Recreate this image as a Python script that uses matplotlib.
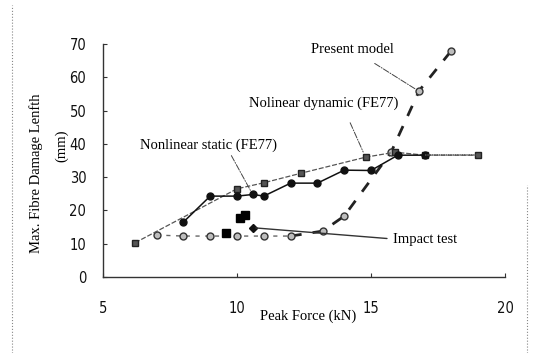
import matplotlib
matplotlib.use("Agg")
import matplotlib.pyplot as plt
from matplotlib import font_manager
from matplotlib.lines import Line2D

# ---- data ----
static_x = [8, 9, 10, 10.6, 11, 12, 13, 14, 15, 16, 17, 19]
static_y = [16.5, 24.3, 24.3, 24.8, 24.3, 28.2, 28.2, 32.1, 32.0, 36.6, 36.6, 36.6]

dynamic_x = [6.2, 10, 11, 12.4, 14.8, 15.9, 17, 19]
dynamic_y = [10.3, 26.5, 28.3, 31.2, 36.0, 37.5, 36.6, 36.6]

present_x = [7, 8, 9, 10, 11, 12, 13.2, 14, 15.75, 16.8, 18]
present_y = [12.6, 12.3, 12.3, 12.3, 12.3, 12.3, 13.8, 18.3, 37.5, 56.0, 68.0]

impact_x = [9.6, 10.1, 10.3, 10.6]
impact_y = [13.3, 17.6, 18.5, 14.8]

xticks = [5, 10, 15, 20]
yticks = [0, 10, 20, 30, 40, 50, 60, 70]

ttfs = font_manager.fontManager.ttflist
names = {f.name for f in ttfs}
has_cond = any(f.name == "DejaVu Sans" and "ondensed" in f.fname for f in ttfs)
if "Liberation Sans Narrow" in names:
    tick_fp = font_manager.FontProperties(family="Liberation Sans Narrow", size=11)
elif has_cond:
    tick_fp = font_manager.FontProperties(family="DejaVu Sans", stretch="condensed", size=10.5)
else:
    tick_fp = font_manager.FontProperties(family="Liberation Sans", size=11)
serif = "Liberation Serif"

W, H = 536, 353
fig = plt.figure(figsize=(W / 100, H / 100), dpi=100)
ax = fig.add_axes([103 / W, 1 - 277 / H, (505 - 103) / W, (277 - 44) / H])

# present model
ax.plot(present_x[:6], present_y[:6], color="#666666", lw=1.0, ls=(0, (3, 4)))
ax.plot(present_x[5:], present_y[5:], color="#222222", lw=2.0, ls=(0, (4, 4)))
ax.plot(present_x, present_y, ls="none", marker="o", ms=5, mfc="#bdbdbd",
        mec="#333333", mew=1.0)

# dynamic
ax.plot(dynamic_x, dynamic_y, color="#555555", lw=0.9, ls=(0, (4, 1.5)),
        marker="s", ms=4.5, mfc="#555555", mec="#222222")

# static
ax.plot(static_x[:-1], static_y[:-1], color="#111111", lw=1.1, ls="-",
        marker="o", ms=5, mfc="#111111", mec="#111111")
ax.plot(static_x[-2:], static_y[-2:], color="#555555", lw=1.1, ls=(0, (1, 0.5)))

# impact test
ax.plot(impact_x[:3], impact_y[:3], ls="none", marker="s", ms=6,
        mfc="#000000", mec="#000000")
ax.plot(impact_x[3:], impact_y[3:], ls="none", marker="D", ms=4,
        mfc="#111111", mec="#111111")

ax.set_xlim(5, 20)
ax.set_ylim(0, 70)
ax.set_xticks(xticks)
ax.set_yticks(yticks)
for s in ["top", "right"]:
    ax.spines[s].set_visible(False)
for s in ["left", "bottom"]:
    ax.spines[s].set_color("#333333")
    ax.spines[s].set_linewidth(1.0)
ax.tick_params(direction="in", length=3, color="#333333")
ax.tick_params(axis="x", pad=17)
ax.tick_params(axis="y", pad=12)
for lab in ax.get_xticklabels() + ax.get_yticklabels():
    lab.set_fontproperties(tick_fp)
    lab.set_color("#111111")

# annotations
akw = dict(arrowstyle="-", color="#444444", lw=0.7, ls="-.")
ax.annotate("", xy=(16.75, 56), xytext=(15.05, 64.6), arrowprops=akw)
ax.text(14.29, 68.2, "Present model", family=serif, fontsize=10.5,
        ha="center", va="center")
ax.annotate("", xy=(14.75, 36.8), xytext=(14.18, 47.1), arrowprops=akw)
ax.text(13.25, 52.3, "Nolinear dynamic (FE77)", family=serif, fontsize=10.5,
        ha="center", va="center")
ax.annotate("", xy=(10.55, 25.3), xytext=(9.74, 37.2), arrowprops=akw)
ax.text(8.92, 39.6, "Nonlinear static (FE77)", family=serif, fontsize=10.5,
        ha="center", va="center")
ax.annotate("", xy=(10.6, 14.8), xytext=(15.7, 11.5),
            arrowprops=dict(arrowstyle="-", color="#333333", lw=1.0))
ax.text(15.82, 11.4, "Impact test", family=serif, fontsize=10.5,
        ha="left", va="center")

fig.text(308 / W, 1 - 316 / H, "Peak Force (kN)", family=serif, fontsize=10.5,
         ha="center", va="center")
fig.text(36 / W, 1 - 173 / H, "Max. Fibre Damage Lenfth", family=serif,
         fontsize=10.5, rotation=90, ha="center", va="center")
fig.text(62 / W, 1 - 146 / H, "(mm)", family=serif, fontsize=10.5,
         rotation=90, ha="center", va="center")

# scan frame edges
fig.add_artist(Line2D([12 / W, 12 / W], [0, 1 - 5 / H], transform=fig.transFigure,
                      color="#888888", lw=0.8, ls=":"))
fig.add_artist(Line2D([527 / W, 527 / W], [0, 1 - 185 / H], transform=fig.transFigure,
                      color="#888888", lw=0.8, ls=":"))

fig.savefig("out.png", dpi=100)
